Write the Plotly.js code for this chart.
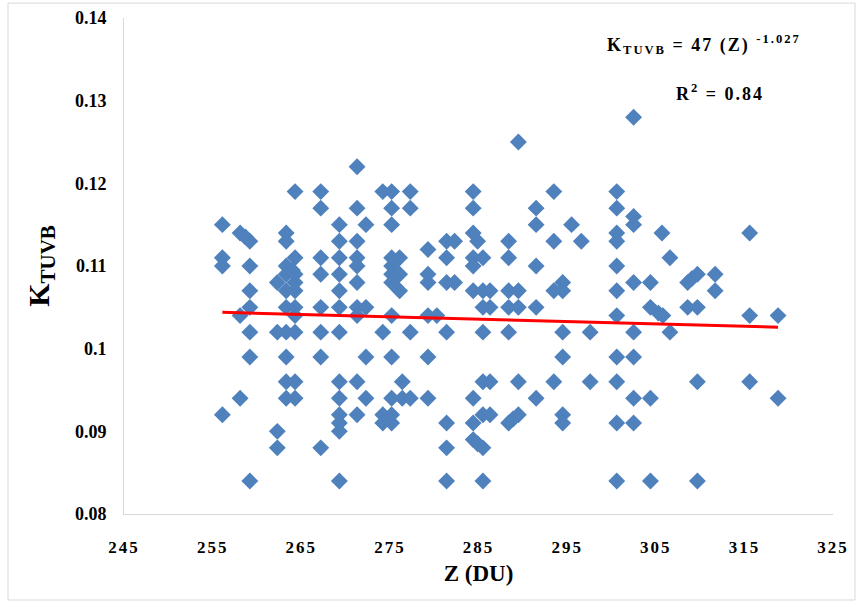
<!DOCTYPE html>
<html>
<head>
<meta charset="utf-8">
<script src="https://cdn.plot.ly/plotly-3.0.1.min.js"></script>
<style>
html,body{margin:0;padding:0;background:#fff;}
#chart{width:861px;height:605px;}
.xtick text{letter-spacing:2px;}
.annotation-text{letter-spacing:2px;}
</style>
</head>
<body>
<div id="chart"></div>
<script>
// Total ozone column Z (DU) and K_TUVB values
const zValues = [
  256.1,256.1,256.1,256.1,
  258.1,258.1,258.1,258.7,
  259.2,259.2,259.2,259.2,259.2,259.2,259.2,
  262.3,262.3,262.3,262.3,
  263.3,263.3,263.3,263.3,263.3,263.3,263.3,263.3,263.3,263.3,
  264.3,264.3,264.3,264.3,264.3,264.3,264.3,264.3,264.3,264.3,264.0,
  267.2,267.2,267.2,267.2,267.2,267.2,267.2,267.2,
  269.3,269.3,269.3,269.3,269.3,269.3,269.3,269.3,269.3,269.3,269.3,269.3,269.3,
  271.3,271.3,271.3,271.3,271.3,271.3,271.3,271.3,271.3,271.3,
  272.3,272.3,272.3,272.3,
  274.2,274.2,274.2,274.2,
  275.2,275.2,275.2,275.2,275.2,275.2,275.2,275.2,275.2,275.2,275.2,275.2,
  276.1,276.1,276.1,276.4,276.4,
  277.3,277.3,277.3,277.3,
  279.3,279.3,279.3,279.3,279.3,279.3,
  280.3,
  281.4,281.4,281.4,281.4,281.4,281.4,281.4,
  282.3,282.3,
  284.4,284.4,284.4,284.4,284.4,284.4,284.4,284.4,284.4,
  284.9,284.9,
  285.5,285.5,285.5,285.5,285.5,285.5,285.5,285.5,
  286.3,286.3,286.3,286.3,
  288.4,288.4,288.4,288.4,288.4,288.4,288.9,
  289.5,289.5,289.5,289.5,289.5,
  291.5,291.5,291.5,291.5,291.5,
  293.5,293.5,293.5,293.5,
  294.5,294.5,294.5,294.5,294.5,294.5,
  295.5,296.6,297.6,297.6,
  300.6,300.6,300.6,300.6,300.6,300.6,300.6,300.6,300.6,300.6,300.6,
  302.5,302.5,302.5,302.5,302.5,302.5,302.5,302.5,
  304.4,304.4,304.4,304.4,
  305.3,305.8,305.7,
  306.6,306.6,
  308.6,308.6,309.1,
  309.7,309.7,309.7,309.7,
  311.7,311.7,
  315.6,315.6,315.6,
  318.8,318.8
];
const kValues = [
  0.115,0.111,0.110,0.092,
  0.114,0.104,0.094,0.1135,
  0.113,0.110,0.107,0.105,0.102,0.099,0.084,
  0.108,0.102,0.090,0.088,
  0.114,0.113,0.110,0.109,0.107,0.105,0.102,0.099,0.096,0.094,
  0.119,0.111,0.108,0.105,0.104,0.102,0.096,0.094,0.107,0.109,0.1095,
  0.119,0.117,0.111,0.109,0.105,0.102,0.099,0.088,
  0.115,0.113,0.111,0.109,0.107,0.105,0.102,0.096,0.094,0.092,0.091,0.090,0.084,
  0.122,0.117,0.113,0.111,0.110,0.108,0.105,0.104,0.096,0.092,
  0.115,0.105,0.099,0.094,
  0.119,0.102,0.092,0.091,
  0.119,0.117,0.115,0.111,0.110,0.109,0.108,0.104,0.099,0.094,0.092,0.091,
  0.111,0.109,0.107,0.096,0.094,
  0.119,0.117,0.102,0.094,
  0.112,0.109,0.108,0.104,0.099,0.094,
  0.104,
  0.113,0.111,0.108,0.102,0.091,0.088,0.084,
  0.113,0.108,
  0.119,0.117,0.114,0.111,0.110,0.107,0.094,0.091,0.089,
  0.113,0.0885,
  0.111,0.107,0.105,0.102,0.096,0.092,0.088,0.084,
  0.107,0.105,0.096,0.092,
  0.113,0.111,0.107,0.105,0.102,0.091,0.0915,
  0.125,0.107,0.105,0.096,0.092,
  0.117,0.115,0.110,0.105,0.094,
  0.119,0.113,0.107,0.096,
  0.108,0.107,0.102,0.099,0.092,0.091,
  0.115,0.113,0.102,0.096,
  0.119,0.117,0.114,0.113,0.110,0.107,0.104,0.099,0.096,0.091,0.084,
  0.128,0.116,0.115,0.108,0.102,0.099,0.094,0.091,
  0.108,0.105,0.094,0.084,
  0.1043,0.104,0.114,
  0.111,0.102,
  0.105,0.108,0.1085,
  0.109,0.105,0.096,0.084,
  0.109,0.107,
  0.114,0.104,0.096,
  0.104,0.094
];
// Power trend line (end points)
const trendZ = [256.1, 318.8];
const trendK = [0.1044, 0.1026];

const xTickVals = [245,255,265,275,285,295,305,315,325];
const xTickText = ['245','255','265','275','285','295','305','315','325'];
const yTickVals = [0.08,0.09,0.10,0.11,0.12,0.13,0.14];
const yTickText = ['0.08','0.09','0.1','0.11','0.12','0.13','0.14'];

const serif = '"Liberation Serif", "Times New Roman", serif';

const traces = [
  {
    type:'scatter', mode:'markers', x:zValues, y:kValues, name:'K_TUVB',
    marker:{symbol:'diamond', size:13, color:'#4f81bd', line:{width:0}},
    hoverinfo:'x+y'
  },
  {
    type:'scatter', mode:'lines', x:trendZ, y:trendK, name:'Power trend',
    line:{color:'#ff0000', width:3}
  }
];

const layout = {
  width:861, height:605,
  margin:{l:124, r:28, t:18, b:91},
  paper_bgcolor:'#ffffff', plot_bgcolor:'#ffffff',
  showlegend:false,
  font:{family:serif, color:'#000000'},
  xaxis:{
    range:[245,325], tickvals:xTickVals, ticktext:xTickText,
    showgrid:false, zeroline:false, showline:true, linecolor:'#d9d9d9', linewidth:1,
    ticks:'outside', ticklen:18, tickcolor:'rgba(0,0,0,0)',
    tickfont:{family:serif, size:17, weight:'bold', color:'#000'},
    title:{text:'Z (DU)', font:{family:serif, size:23, weight:'bold', color:'#000'}, standoff:8}
  },
  yaxis:{
    range:[0.08,0.14], tickvals:yTickVals, ticktext:yTickText,
    showgrid:false, zeroline:false, showline:true, linecolor:'#d9d9d9', linewidth:1,
    ticks:'outside', ticklen:13, tickcolor:'rgba(0,0,0,0)',
    tickfont:{family:serif, size:18, weight:'bold', color:'#000'},
    title:{text:'K<sub>TUVB</sub>', font:{family:serif, size:30, weight:'bold', color:'#000'}, standoff:16}
  },
  annotations:[
    {xref:'paper', yref:'paper', x:0.818, y:0.9456, xanchor:'center', yanchor:'middle', showarrow:false,
     text:'K<sub>TUVB</sub> = 47 (Z) <sup>-1.027</sup>',
     font:{family:serif, size:18, weight:'bold', color:'#000'}},
    {xref:'paper', yref:'paper', x:0.8406, y:0.849, xanchor:'center', yanchor:'middle', showarrow:false,
     text:'R<sup>2</sup> = 0.84',
     font:{family:serif, size:18, weight:'bold', color:'#000'}}
  ],
  shapes:[
    {type:'rect', xref:'paper', yref:'paper', x0:-0.1636, x1:1.031, y0:-0.1734, y1:1.030,
     line:{color:'#d9d9d9', width:1}, fillcolor:'rgba(0,0,0,0)', layer:'below'}
  ]
};

Plotly.newPlot('chart', traces, layout, {displayModeBar:false, staticPlot:true});
</script>
</body>
</html>
